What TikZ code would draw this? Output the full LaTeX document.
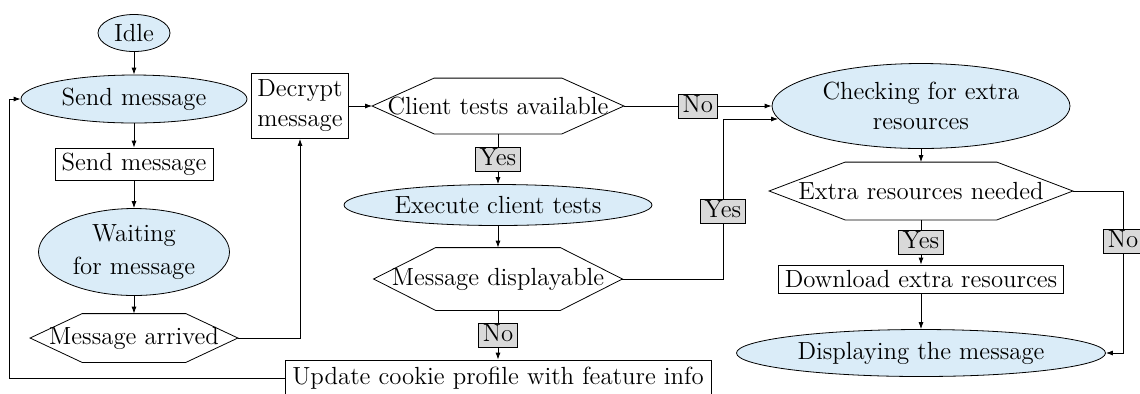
\documentclass[tikz,border=0pt]{standalone}
\usepackage{fontspec}
\usetikzlibrary{arrows.meta,calc,shapes.geometric}

\definecolor{stateblue}{RGB}{218,236,248}

% hexagonal decision node: name, position, width, height, slant, text
\newcommand\hexdecision[6]{%
  \node[hexcore, minimum width=#3, minimum height=#4] (#1) at #2 {#6};
  \draw ($(#1.north west)+(#5,0pt)$) -- ($(#1.north east)-(#5,0pt)$) -- (#1.east)
     -- ($(#1.south east)-(#5,0pt)$) -- ($(#1.south west)+(#5,0pt)$) -- (#1.west) -- cycle;}

\begin{document}
\begin{tikzpicture}[x=0.5pt,y=-0.5pt,
    every node/.style={font=\fontsize{12.4}{15}\selectfont},
    state/.style={ellipse, draw, fill=stateblue, inner sep=0pt, align=center},
    action/.style={rectangle, draw, inner sep=0pt, align=center},
    hexcore/.style={rectangle, inner sep=0pt, align=center},
    lbl/.style={rectangle, draw, fill=gray!30, inner xsep=2pt, inner ysep=0.5pt,
                text height=8.5pt, text depth=2.5pt},
    arr/.style={-{Latex[length=3.5pt,width=2.5pt]}}]

\useasboundingbox (0,0) rectangle (1140,393);

% left column: sending and waiting
\node[state, minimum width=36pt, minimum height=18.5pt] (idle) at (134,33) {Idle};
\node[state, minimum width=113pt, minimum height=24pt] (sendstate) at (134,99) {Send message};
\node[action, minimum width=79pt, minimum height=16pt] (sendbox) at (134,164) {Send message};
\node[state, minimum width=95.5pt, minimum height=43.5pt] (wait) at (134,252)
  {Waiting\\[1.5pt]for message};
\hexdecision{arrived}{(134,338)}{103.5pt}{24pt}{26pt}{Message arrived}

\node[action, minimum width=48.5pt, minimum height=32.5pt] (decrypt) at (300,106)
  {Decrypt\\message};

% middle column: client tests
\hexdecision{tests}{(498,106)}{125.5pt}{27.5pt}{31pt}{Client tests available}
\node[state, minimum width=154pt, minimum height=20.5pt] (exec) at (498,205) {Execute client tests};
\hexdecision{displayable}{(498,279)}{124pt}{31pt}{31pt}{Message displayable}
\node[action, minimum width=213pt, minimum height=18pt] (update) at (498,378)
  {Update cookie profile with feature info};

% right column: extra resources
\node[state, minimum width=149pt, minimum height=42.5pt] (check) at (921,106)
  {Checking for extra\\resources};
\hexdecision{needed}{(921,191)}{151.5pt}{28.5pt}{38pt}{Extra resources needed}
\node[action, minimum width=142.5pt, minimum height=14pt] (download) at (921,279)
  {Download extra resources};
\node[state, minimum width=184.5pt, minimum height=23.5pt] (show) at (921,353)
  {Displaying the message};

% bend points
\coordinate (back) at (9,378);
\coordinate (turn) at (723,119);
\coordinate (side) at (1123,191);

% connectors
\draw[arr] (idle) -- (sendstate);
\draw[arr] (sendstate) -- (sendbox);
\draw[arr] (sendbox) -- (wait);
\draw[arr] (wait) -- (arrived);
\draw[arr] (arrived.east) -| (decrypt.south);
\draw[arr] (decrypt.east) -- (tests.west);
\draw[arr] (tests.east) -- node[lbl] {No} (check.west);
\draw[arr] (tests.south) -- node[lbl] {Yes} (exec.north);
\draw[arr] (exec) -- (displayable.north);
\draw[arr] (displayable.south) -- node[lbl] {No} (update.north);
\draw[arr] (displayable.east) -| (turn) node[lbl, pos=0.71] {Yes} -- (turn -| check.185);
\draw[arr] (update.west) -- (back) |- (sendstate.west);
\draw[arr] (check) -- (needed.north);
\draw[arr] (needed.south) -- node[lbl] {Yes} (download.north);
\draw[arr] (download) -- (show);
\draw[arr] (needed.east) -- (side) |- (show.east) node[lbl, pos=0.155] {No};

\end{tikzpicture}
\end{document}
